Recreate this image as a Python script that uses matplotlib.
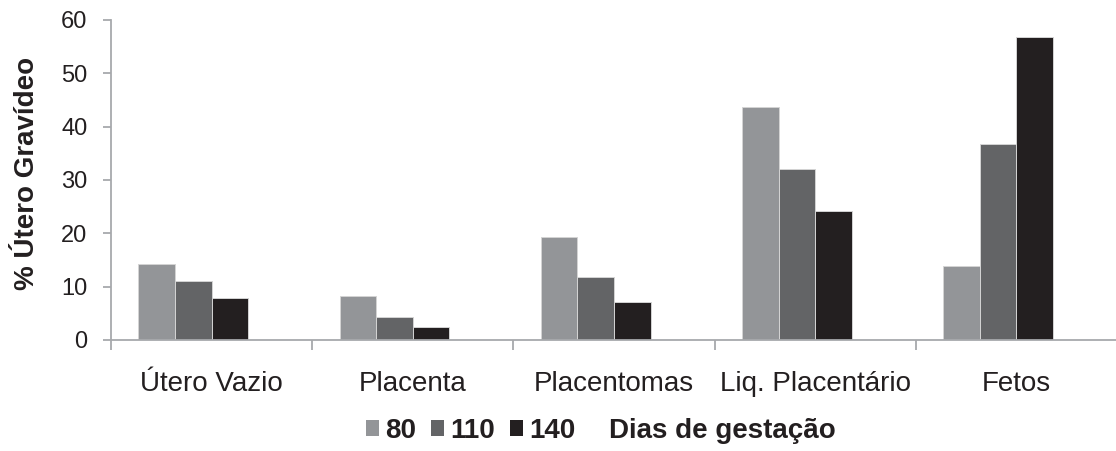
import matplotlib
matplotlib.use("Agg")
import matplotlib.pyplot as plt
from matplotlib.patches import Patch
import numpy as np

categories = ["Útero Vazio", "Placenta", "Placentomas", "Liq. Placentário", "Fetos"]
series_labels = ["80", "110", "140"]
d80 = [14.2, 8.3, 19.3, 43.6, 13.9]
d110 = [11.0, 4.4, 11.8, 32.1, 36.8]
d140 = [7.9, 2.5, 7.1, 24.2, 56.8]
legend_title = "Dias de gestação"
colors = ["#939598", "#636466", "#231f20"]
axis_color = "#a7a9ac"
text_color = "#231f20"
fam = ["Liberation Sans", "DejaVu Sans"]

fig = plt.figure(figsize=(11.16, 4.51), dpi=100)
ax = fig.add_axes([111 / 1116, 1 - 340 / 451, 1006 / 1116, 320 / 451])

x = np.arange(len(categories))
w = 1 / 5.5
offsets = [-1.5 * w, -0.5 * w, 0.5 * w]
handles = []
for vals, off, col, lab in zip([d80, d110, d140], offsets, colors, series_labels):
    ax.bar(x + off, vals, width=w, color=col, edgecolor="#d4d4d4", linewidth=0.7, zorder=2)
    handles.append(Patch(facecolor=col, edgecolor="none", label=lab))
handles.append(Patch(facecolor="none", edgecolor="none", label=legend_title))

ax.set_xlim(-0.5, len(categories) - 0.5)
ax.set_ylim(0, 60)
ax.set_yticks(np.arange(0, 61, 10))

ax.set_xticks(x)
ax.set_xticklabels(categories, fontsize=20, color=text_color, family=fam)
ax.set_xticks(np.arange(-0.5, len(categories), 1), minor=True)
ax.tick_params(axis="x", which="major", length=0, pad=22)
ax.tick_params(axis="x", which="minor", length=7, width=1.3, color=axis_color, direction="out")
ax.tick_params(axis="y", length=6, width=1.3, color=axis_color, direction="out", pad=11,
               labelsize=17, labelcolor=text_color)
for lab in ax.get_yticklabels():
    lab.set_family(fam)

for s in ["top", "right"]:
    ax.spines[s].set_visible(False)
for s in ["left", "bottom"]:
    ax.spines[s].set_color(axis_color)
    ax.spines[s].set_linewidth(1.3)

fig.text(27 / 1116, 1 - 173 / 451, "% Útero Gravídeo", rotation=90, ha="center", va="center",
         fontsize=20, fontweight="bold", color=text_color, family=fam)

leg = fig.legend(handles=handles, loc="center", bbox_to_anchor=(601 / 1116, 1 - 431 / 451), ncol=4,
                 frameon=False, prop={"family": fam, "weight": "bold", "size": 20},
                 handlelength=0.47, handleheight=0.47, handletextpad=0.22, columnspacing=0.54,
                 borderaxespad=0, borderpad=0)
for t in leg.get_texts():
    t.set_color(text_color)

fig.savefig("out.png", dpi=100)
